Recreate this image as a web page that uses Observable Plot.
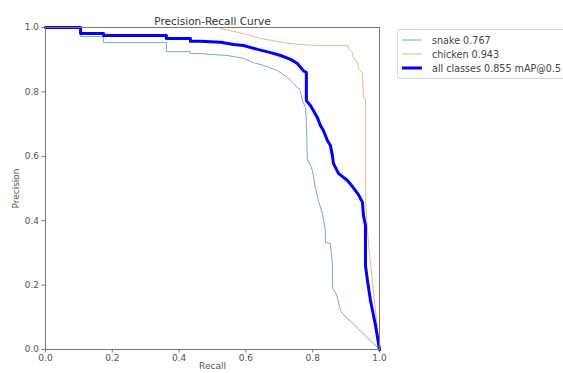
<!DOCTYPE html>
<html>
<head>
<meta charset="utf-8">
<script src="https://cdn.jsdelivr.net/npm/d3@7"></script>
<script src="https://cdn.jsdelivr.net/npm/@observablehq/plot@0.6"></script>
<style>
  html, body { margin: 0; padding: 0; background: #fff; overflow: hidden; }
  #wrap { position: relative; width: 563px; height: 373px; overflow: hidden; font-family: "DejaVu Sans", sans-serif; }
  #legend { position: absolute; left: 397px; top: 29px; width: 200px; height: 50px; border: 1px solid #d6d6d6; border-radius: 3px; background: rgba(255,255,255,0.85); box-sizing: border-box; }
  .row { position: absolute; left: 0; height: 14px; display: flex; align-items: center; font-size: 9.6px; color: #444; white-space: nowrap; }
  .row svg { margin-left: 4px; margin-right: 10px; }
</style>
</head>
<body>
<div id="wrap"><div id="legend"></div></div>
<script>
const title = "Precision-Recall Curve";
const xLabel = "Recall";
const yLabel = "Precision";
const xTicks = [0, 0.2, 0.4, 0.6, 0.8, 1.0];
const yTicks = [0, 0.2, 0.4, 0.6, 0.8, 1.0];
const seriesNames = ["snake 0.767", "chicken 0.943", "all classes 0.855 mAP@0.5"];
const seriesColors = ["#7aa7d4", "#f3b57e", "#0000ff"];
const seriesWidths = [1, 1, 3];

const snakeRecall = [0, 0.105, 0.105, 0.174, 0.174, 0.362, 0.362, 0.434, 0.434, 0.464, 0.545, 0.593, 0.623, 0.653, 0.695, 0.725, 0.743, 0.763, 0.769, 0.778, 0.781, 0.784, 0.787, 0.799, 0.808, 0.817, 0.829, 0.838, 0.838, 0.853, 0.859, 0.859, 0.868, 0.874, 0.883, 0.889, 1.0];
const snakePrecision = [1.0, 1.0, 0.972, 0.972, 0.953, 0.953, 0.925, 0.925, 0.919, 0.919, 0.913, 0.904, 0.891, 0.882, 0.866, 0.845, 0.826, 0.804, 0.773, 0.752, 0.711, 0.587, 0.587, 0.556, 0.503, 0.463, 0.422, 0.370, 0.333, 0.329, 0.267, 0.193, 0.177, 0.161, 0.121, 0.112, 0.0];

const chickenRecall = [0, 0.518, 0.524, 0.593, 0.644, 0.713, 0.763, 0.823, 0.904, 0.907, 0.919, 0.922, 0.934, 0.937, 0.949, 0.952, 0.958, 0.958, 0.964, 0.970, 1.0];
const chickenPrecision = [1.0, 1.0, 0.997, 0.981, 0.966, 0.953, 0.947, 0.944, 0.944, 0.935, 0.922, 0.907, 0.891, 0.873, 0.857, 0.783, 0.780, 0.463, 0.370, 0.298, 0.0];

const allRecall = [0, 0.105, 0.105, 0.174, 0.174, 0.362, 0.362, 0.434, 0.434, 0.464, 0.524, 0.563, 0.593, 0.635, 0.674, 0.704, 0.734, 0.754, 0.772, 0.781, 0.781, 0.793, 0.802, 0.814, 0.823, 0.832, 0.844, 0.853, 0.859, 0.862, 0.877, 0.904, 0.919, 0.937, 0.949, 0.952, 0.958, 0.958, 0.964, 0.973, 0.988, 1.0];
const allPrecision = [1.0, 1.0, 0.981, 0.981, 0.975, 0.975, 0.966, 0.966, 0.957, 0.957, 0.954, 0.947, 0.944, 0.932, 0.922, 0.913, 0.901, 0.888, 0.866, 0.860, 0.773, 0.758, 0.742, 0.720, 0.696, 0.680, 0.649, 0.634, 0.602, 0.578, 0.547, 0.525, 0.506, 0.481, 0.457, 0.416, 0.385, 0.261, 0.214, 0.152, 0.075, 0.0];

const toRows = (rs, ps) => rs.map((r, i) => ({r, p: ps[i]}));
const snake = toRows(snakeRecall, snakePrecision);
const chicken = toRows(chickenRecall, chickenPrecision);
const all = toRows(allRecall, allPrecision);

const fmt = d3.format(".1f");
const chart = Plot.plot({
  width: 563,
  height: 373,
  marginLeft: 45,
  marginRight: 184,
  marginTop: 27,
  marginBottom: 24,
  x: {domain: [0, 1]},
  y: {domain: [0, 1]},
  style: {fontFamily: "DejaVu Sans", fontSize: "9px", color: "#555", background: "white"},
  marks: [
    Plot.axisX({ticks: xTicks, tickFormat: fmt, tickSize: 3.5, tickPadding: 2, stroke: "#777", label: null}),
    Plot.axisY({ticks: yTicks, tickFormat: fmt, tickSize: 3.5, tickPadding: 3, stroke: "#777", label: yLabel, labelAnchor: "center", labelArrow: "none", labelOffset: 33}),
    Plot.line(snake, {x: "r", y: "p", stroke: seriesColors[0], strokeWidth: seriesWidths[0]}),
    Plot.line(chicken, {x: "r", y: "p", stroke: seriesColors[1], strokeWidth: seriesWidths[1]}),
    Plot.line(all, {x: "r", y: "p", stroke: seriesColors[2], strokeWidth: seriesWidths[2], strokeLinejoin: "round"}),
    Plot.frame({stroke: "#777", strokeWidth: 1}),
    Plot.text([title], {frameAnchor: "top", dy: -10, fontSize: 10.5, fill: "#333"}),
    Plot.text([xLabel], {frameAnchor: "bottom", dy: 19, fontSize: 9, fill: "#555"})
  ]
});
const wrap = document.getElementById("wrap");
wrap.insertBefore(chart, wrap.firstChild);

const legend = document.getElementById("legend");
seriesNames.forEach((name, i) => {
  const row = document.createElement("div");
  row.className = "row";
  row.style.top = (3 + i * 14) + "px";
  row.innerHTML = `<svg width="20" height="6"><line x1="0" x2="20" y1="3" y2="3" stroke="${seriesColors[i]}" stroke-width="${seriesWidths[i]}"/></svg>`;
  const span = document.createElement("span");
  span.textContent = name;
  row.appendChild(span);
  legend.appendChild(row);
});
</script>
</body>
</html>
